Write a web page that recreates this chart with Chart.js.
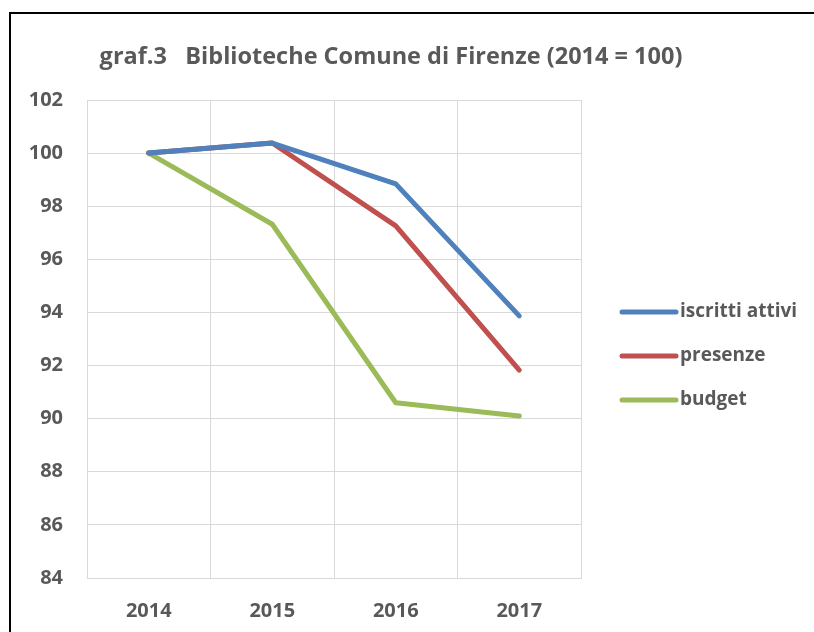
<!DOCTYPE html>
<html>
<head>
<meta charset="utf-8">
<script src="https://cdn.jsdelivr.net/npm/chart.js@4.4.0/dist/chart.umd.min.js"></script>
<style>
  html, body { margin: 0; padding: 0; background: #fff; }
  #wrap { position: relative; width: 814px; height: 632px; overflow: hidden; }
  #frame { position: absolute; left: 9px; top: 12px; width: 900px; height: 700px;
           border-left: 2px solid #000; border-top: 2px solid #000; pointer-events: none; }
  canvas { position: absolute; left: 0; top: 0; }
</style>
</head>
<body>
<div id="wrap">
  <canvas id="chart" width="814" height="632"></canvas>
  <div id="frame"></div>
</div>
<script>
/* graf.3 - Biblioteche Comune di Firenze, indice 2014 = 100 */

const years = ['2014', '2015', '2016', '2017'];
const iscrittiAttivi = [100, 100.38, 98.84, 93.87];
const presenze = [100, 100.38, 97.26, 91.83];
const budget = [100, 97.32, 90.6, 90.1];
const yTicks = [84, 86, 88, 90, 92, 94, 96, 98, 100, 102];

const titleText = 'graf.3   Biblioteche Comune di Firenze (2014 = 100)';
const textColor = '#595959';
const gridColor = '#d9d9d9';
const fontFamily = "'Open Sans', sans-serif";

// title + legend drawn by hand so they sit where Excel put them
const excelDecor = {
    id: 'excelDecor',
    afterDraw(chart) {
        const ctx = chart.ctx;
        ctx.save();
        ctx.fillStyle = textColor;
        ctx.font = 'bold 23.5px ' + fontFamily;
        ctx.textAlign = 'center';
        ctx.textBaseline = 'middle';
        ctx.fillText(titleText, 391, 57);

        const area = chart.chartArea;
        const x0 = area.right + 41;
        let y = 312;
        chart.data.datasets.forEach((ds) => {
            ctx.strokeStyle = ds.borderColor;
            ctx.lineWidth = 5;
            ctx.lineCap = 'round';
            ctx.beginPath();
            ctx.moveTo(x0, y);
            ctx.lineTo(x0 + 54, y);
            ctx.stroke();
            ctx.fillStyle = textColor;
            ctx.font = 'bold 19px ' + fontFamily;
            ctx.textAlign = 'left';
            ctx.textBaseline = 'middle';
            ctx.fillText(ds.label, x0 + 58, y);
            y += 44;
        });
        ctx.restore();
    }
};

function lineSet(label, data, color) {
    return {
        label: label,
        data: data,
        borderColor: color,
        backgroundColor: color,
        borderWidth: 5,
        borderCapStyle: 'round',
        borderJoinStyle: 'round',
        tension: 0,
        pointRadius: 0,
        pointHoverRadius: 0,
        fill: false
    };
}

new Chart(document.getElementById('chart'), {
    type: 'line',
    data: {
        labels: years,
        datasets: [
            lineSet('iscritti attivi', iscrittiAttivi, '#4f81bd'),
            lineSet('presenze', presenze, '#c0504d'),
            lineSet('budget', budget, '#9bbb59')
        ]
    },
    options: {
        responsive: false,
        animation: false,
        layout: { padding: { top: 100, left: 0, right: 233, bottom: 0 } },
        plugins: {
            legend: { display: false },
            title: { display: false },
            tooltip: { enabled: false }
        },
        scales: {
            x: {
                offset: true,
                grid: { offset: true, color: gridColor, lineWidth: 1, drawTicks: false },
                border: { color: gridColor, width: 1 },
                ticks: {
                    color: textColor,
                    font: { family: fontFamily, size: 20, weight: 'bold' },
                    padding: 21
                },
                afterFit: (s) => { s.height = 54; }
            },
            y: {
                min: 84,
                max: 102,
                afterBuildTicks: (s) => { s.ticks = yTicks.map((v) => ({ value: v })); },
                grid: { color: gridColor, lineWidth: 1, drawTicks: false },
                border: { color: gridColor, width: 1 },
                ticks: {
                    color: textColor,
                    font: { family: fontFamily, size: 20, weight: 'bold' },
                    padding: 24
                },
                afterFit: (s) => { s.width = 87; }
            }
        }
    },
    plugins: [excelDecor]
});
</script>
</body>
</html>
